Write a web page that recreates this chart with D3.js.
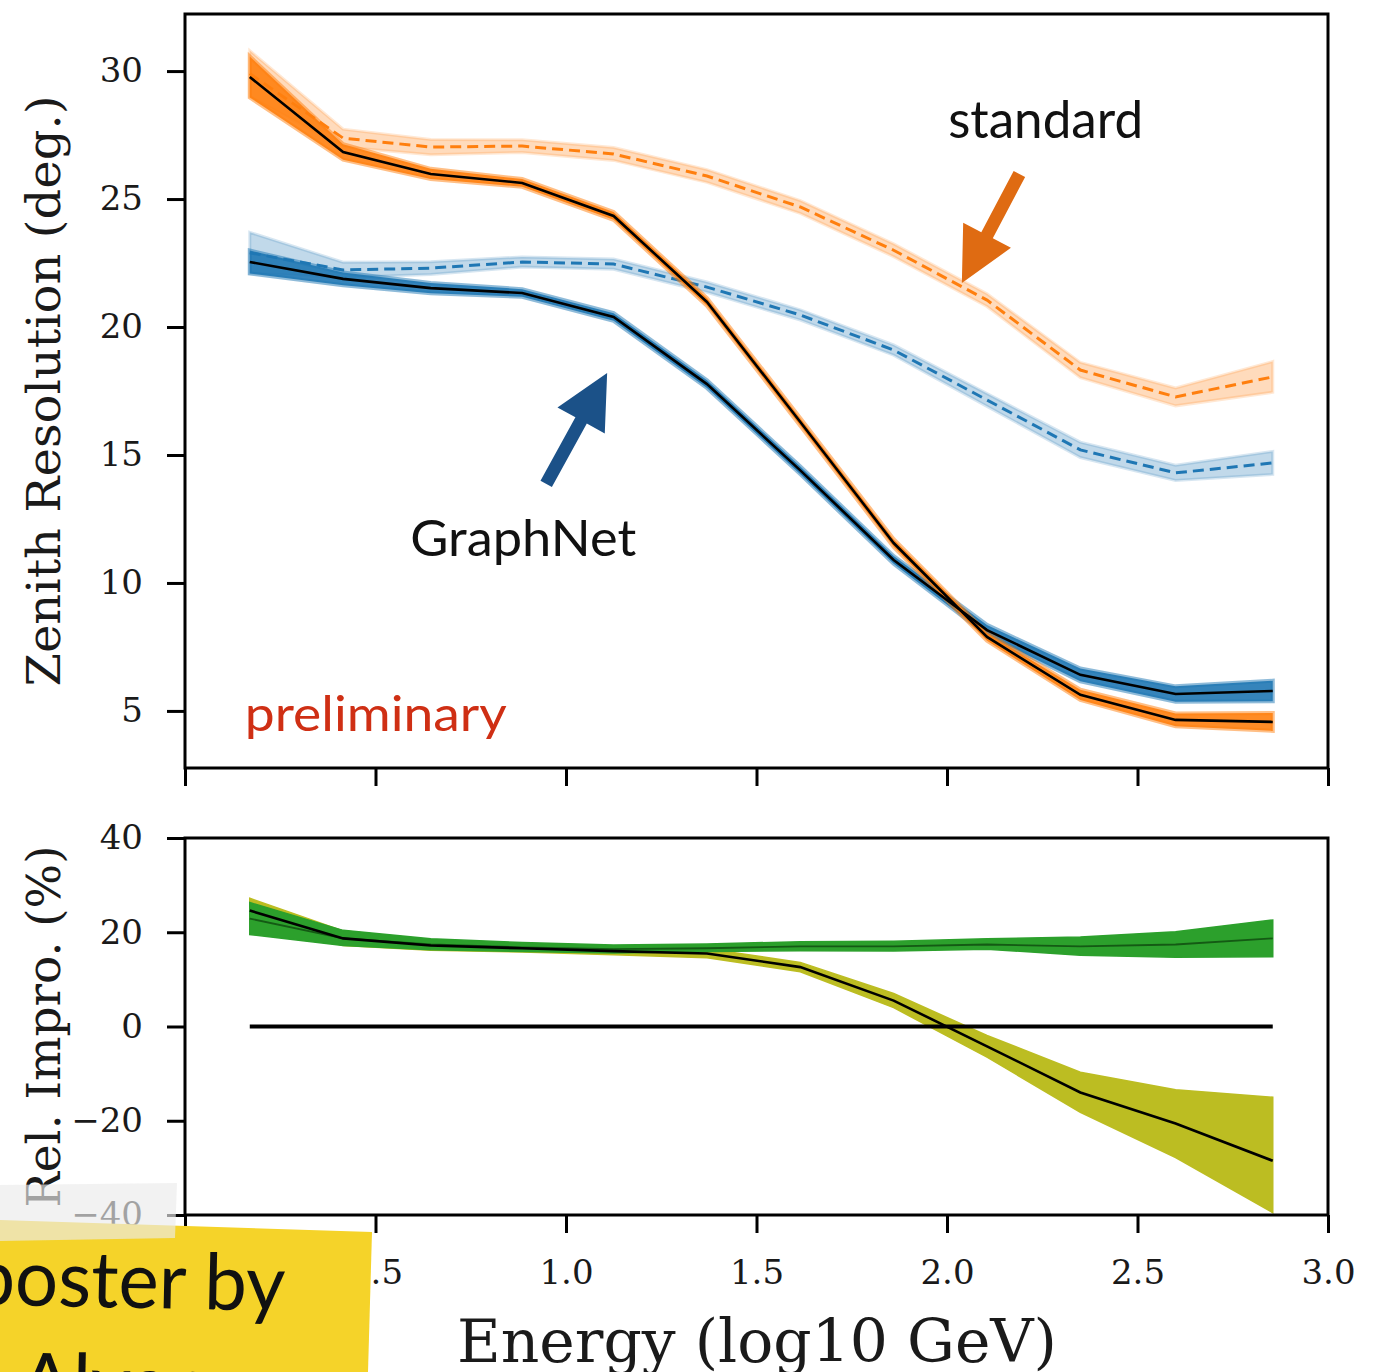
<!DOCTYPE html>
<html><head><meta charset="utf-8">
<script src="https://cdn.jsdelivr.net/npm/d3@7"></script>
<style>body{margin:0;background:#fff;} svg{display:block}</style>
</head><body>
<svg id="c" width="1378" height="1372"></svg>
<script>
// ---- data ----
const energy = [0.17, 0.415, 0.645, 0.885, 1.125, 1.37, 1.615, 1.86, 2.105, 2.35, 2.6, 2.855];

const orangeGraphNet    = [29.77, 26.84, 25.98, 25.63, 24.34, 20.98, 16.29, 11.56, 7.89, 5.63, 4.65, 4.57];
const orangeGraphNetErr = [0.8, 0.3, 0.2, 0.15, 0.15, 0.15, 0.15, 0.15, 0.15, 0.2, 0.25, 0.35];
const orangeStandard    = [29.9, 27.38, 27.03, 27.07, 26.76, 25.9, 24.69, 23.0, 21.05, 18.32, 17.27, 18.05];
const orangeStandardErr = [0.9, 0.35, 0.3, 0.25, 0.25, 0.25, 0.25, 0.25, 0.25, 0.3, 0.35, 0.6];

const blueGraphNet    = [22.54, 21.88, 21.52, 21.33, 20.39, 17.77, 14.4, 10.9, 8.16, 6.41, 5.66, 5.78];
const blueGraphNetErr = [0.45, 0.25, 0.2, 0.15, 0.15, 0.15, 0.15, 0.15, 0.2, 0.25, 0.3, 0.4];
const blueStandard    = [22.9, 22.23, 22.3, 22.54, 22.46, 21.56, 20.47, 19.1, 17.15, 15.2, 14.3, 14.69];
const blueStandardErr = [0.8, 0.3, 0.25, 0.2, 0.2, 0.2, 0.2, 0.2, 0.25, 0.3, 0.3, 0.45];

const improvementGreen   = [22.9, 18.7, 17.4, 16.8, 16.4, 16.6, 17.0, 17.0, 17.4, 17.0, 17.4, 18.7];
const improvementGreenHi = [26.3, 20.4, 18.6, 17.8, 17.3, 17.5, 18.0, 18.1, 18.6, 19.0, 20.1, 22.6];
const improvementGreenLo = [19.5, 17.2, 16.3, 15.9, 15.6, 15.9, 16.1, 16.0, 16.4, 15.1, 14.7, 14.8];

const improvementOlive   = [24.6, 18.7, 17.2, 16.6, 16.0, 15.5, 12.6, 5.5, -4.2, -14.0, -20.6, -28.5];
const improvementOliveHi = [27.2, 20.3, 18.3, 17.5, 16.8, 16.5, 13.6, 7.0, -1.9, -9.7, -13.4, -15.0];
const improvementOliveLo = [22.0, 17.2, 16.2, 15.8, 15.2, 14.6, 11.6, 4.0, -6.5, -18.2, -27.8, -39.5];

const xTicks = [0, 0.5, 1.0, 1.5, 2.0, 2.5, 3.0];
const yTopTicks = [5, 10, 15, 20, 25, 30];
const yBotTicks = [-40, -20, 0, 20, 40];

// ---- layout ----
const svg = d3.select("#c");
const x = d3.scaleLinear().domain([0, 3]).range([185, 1328]);
const yTop = d3.scaleLinear().domain([2.77, 32.23]).range([768, 14]);
const yBot = d3.scaleLinear().domain([-40, 40]).range([1215, 838]);

const ORANGE = "#ff7f0e", BLUE = "#1f77b4", GREEN = "#2ca02c", OLIVE = "#bcbd22";
const serif = "'DejaVu Serif', serif";
const sans = "Lato, 'Noto Sans', sans-serif";

function band(y, mean, err) {
  return d3.area().x((d, i) => x(energy[i]))
    .y0((d, i) => y(mean[i] - err[i])).y1((d, i) => y(mean[i] + err[i]))(mean);
}
function bandLoHi(y, lo, hi) {
  return d3.area().x((d, i) => x(energy[i]))
    .y0((d, i) => y(lo[i])).y1((d, i) => y(hi[i]))(lo);
}
function line(y, vals) {
  return d3.line().x((d, i) => x(energy[i])).y(d => y(d))(vals);
}

// ---- top panel ----
const topG = svg.append("g");
[[orangeStandard, orangeStandardErr, ORANGE], [blueStandard, blueStandardErr, BLUE]].forEach(([m, e, c]) => {
  topG.append("path").attr("d", band(yTop, m, e)).attr("fill", c).attr("fill-opacity", 0.28)
    .attr("stroke", c).attr("stroke-opacity", 0.18).attr("stroke-width", 3);
});
[[orangeStandard, ORANGE], [blueStandard, BLUE]].forEach(([m, c]) => {
  topG.append("path").attr("d", line(yTop, m)).attr("fill", "none").attr("stroke", c)
    .attr("stroke-width", 3).attr("stroke-dasharray", "11,6");
});
[[blueGraphNet, blueGraphNetErr, BLUE], [orangeGraphNet, orangeGraphNetErr, ORANGE]].forEach(([m, e, c]) => {
  topG.append("path").attr("d", band(yTop, m, e)).attr("fill", c).attr("fill-opacity", 0.9)
    .attr("stroke", c).attr("stroke-opacity", 0.5).attr("stroke-width", 4);
});
[blueGraphNet, orangeGraphNet].forEach(m => {
  topG.append("path").attr("d", line(yTop, m)).attr("fill", "none").attr("stroke", "#000")
    .attr("stroke-width", 2.6);
});

topG.append("rect").attr("x", x(0)).attr("y", yTop(32.23)).attr("width", x(3) - x(0))
  .attr("height", yTop(2.77) - yTop(32.23)).attr("fill", "none").attr("stroke", "#000").attr("stroke-width", 3);

const axTopY = topG.append("g").attr("transform", `translate(${x(0)},0)`)
  .call(d3.axisLeft(yTop).tickValues(yTopTicks).tickSize(18).tickPadding(24));
const axTopX = topG.append("g").attr("transform", `translate(0,${yTop(2.77)})`)
  .call(d3.axisBottom(x).tickValues(xTicks).tickSize(18).tickFormat(""));

// ---- bottom panel ----
const botG = svg.append("g");
botG.append("path").attr("d", bandLoHi(yBot, improvementOliveLo, improvementOliveHi)).attr("fill", OLIVE)
  .attr("stroke", OLIVE).attr("stroke-width", 1.5);
botG.append("path").attr("d", bandLoHi(yBot, improvementGreenLo, improvementGreenHi)).attr("fill", GREEN)
  .attr("stroke", GREEN).attr("stroke-width", 1.5);
botG.append("path").attr("d", line(yBot, improvementGreen)).attr("fill", "none").attr("stroke", "#145a14")
  .attr("stroke-width", 1.8);
botG.append("line").attr("x1", x(energy[0])).attr("x2", x(energy[energy.length - 1]))
  .attr("y1", yBot(0)).attr("y2", yBot(0)).attr("stroke", "#000").attr("stroke-width", 4);
botG.append("path").attr("d", line(yBot, improvementOlive)).attr("fill", "none").attr("stroke", "#000")
  .attr("stroke-width", 2.6);

botG.append("rect").attr("x", x(0)).attr("y", yBot(40)).attr("width", x(3) - x(0))
  .attr("height", yBot(-40) - yBot(40)).attr("fill", "none").attr("stroke", "#000").attr("stroke-width", 3);

const axBotY = botG.append("g").attr("transform", `translate(${x(0)},0)`)
  .call(d3.axisLeft(yBot).tickValues(yBotTicks).tickSize(18).tickPadding(24)
    .tickFormat(d => d < 0 ? "\u2212" + Math.abs(d) : String(d)));
const axBotX = botG.append("g").attr("transform", `translate(0,${yBot(-40)})`)
  .call(d3.axisBottom(x).tickValues(xTicks).tickSize(18).tickPadding(27).tickFormat(d3.format(".1f")));

[axTopY, axTopX, axBotY, axBotX].forEach(g => {
  g.select(".domain").remove();
  g.selectAll(".tick line").attr("stroke", "#000").attr("stroke-width", 3);
  g.selectAll("text").attr("font-family", serif).attr("font-size", 34).attr("fill", "#1a1a1a");
});

// axis titles
svg.append("text").attr("transform", `translate(60,${(yTop(2.77) + yTop(32.23)) / 2}) rotate(-90)`)
  .attr("text-anchor", "middle").attr("font-family", serif).attr("font-size", 47).attr("fill", "#1a1a1a")
  .attr("textLength", 591).attr("lengthAdjust", "spacingAndGlyphs").text("Zenith Resolution (deg.)");
svg.append("text").attr("transform", `translate(60,${(yBot(-40) + yBot(40)) / 2}) rotate(-90)`)
  .attr("text-anchor", "middle").attr("font-family", serif).attr("font-size", 47).attr("fill", "#1a1a1a")
  .attr("textLength", 362).attr("lengthAdjust", "spacingAndGlyphs").text("Rel. Impro. (%)");
svg.append("text").attr("x", 757).attr("y", 1362).attr("text-anchor", "middle")
  .attr("font-family", serif).attr("font-size", 60).attr("fill", "#1a1a1a")
  .attr("textLength", 600).attr("lengthAdjust", "spacingAndGlyphs").text("Energy (log10 GeV)");

// ---- annotations ----
function arrow(tail, tip, shaftW, headL, headW, color) {
  const dx = tip[0] - tail[0], dy = tip[1] - tail[1];
  const len = Math.hypot(dx, dy), ux = dx / len, uy = dy / len, px = -uy, py = ux;
  const bx = tip[0] - ux * headL, by = tip[1] - uy * headL;
  const pts = [
    [tail[0] + px * shaftW / 2, tail[1] + py * shaftW / 2],
    [bx + px * shaftW / 2, by + py * shaftW / 2],
    [bx + px * headW / 2, by + py * headW / 2],
    tip,
    [bx - px * headW / 2, by - py * headW / 2],
    [bx - px * shaftW / 2, by - py * shaftW / 2],
    [tail[0] - px * shaftW / 2, tail[1] - py * shaftW / 2]
  ];
  svg.append("polygon").attr("points", pts.map(p => p.join(",")).join(" ")).attr("fill", color);
}
arrow([x(2.19), yTop(25.98)], [x(2.039), yTop(21.72)], 13, 54, 54, "#df6b12");
arrow([x(0.948), yTop(13.87)], [x(1.108), yTop(18.2)], 13, 54, 54, "#1b5188");

svg.append("text").attr("x", x(2.003)).attr("y", yTop(27.38)).attr("font-family", sans)
  .attr("font-size", 52).attr("fill", "#111").attr("textLength", 195).attr("lengthAdjust", "spacingAndGlyphs")
  .text("standard");
svg.append("text").attr("x", x(0.591)).attr("y", yTop(11.05)).attr("font-family", sans)
  .attr("font-size", 50).attr("fill", "#111").attr("textLength", 226).attr("lengthAdjust", "spacingAndGlyphs")
  .text("GraphNet");
svg.append("text").attr("x", x(0.157)).attr("y", yTop(4.22)).attr("font-family", sans)
  .attr("font-size", 48).attr("fill", "#cf2f14").attr("textLength", 262).attr("lengthAdjust", "spacingAndGlyphs")
  .text("preliminary");

// ---- sticky note overlay ----
svg.append("polygon").attr("points", "0,1220 372,1232 368,1372 0,1372").attr("fill", "#f5d329");
const noteG = svg.append("g").attr("transform", "rotate(1.2, 0, 1300)");
noteG.append("text").attr("x", -28).attr("y", 1305).attr("font-family", sans).attr("font-size", 78)
  .attr("fill", "#111").attr("textLength", 313).attr("lengthAdjust", "spacingAndGlyphs").text("poster by");
noteG.append("text").attr("x", -40).attr("y", 1408).attr("font-family", sans).attr("font-size", 78)
  .attr("fill", "#111").text("o Alvares");
svg.append("polygon").attr("points", "0,1185 177,1183 175,1238 0,1241")
  .attr("fill", "#ebebeb").attr("fill-opacity", 0.65);
</script>
</body></html>
